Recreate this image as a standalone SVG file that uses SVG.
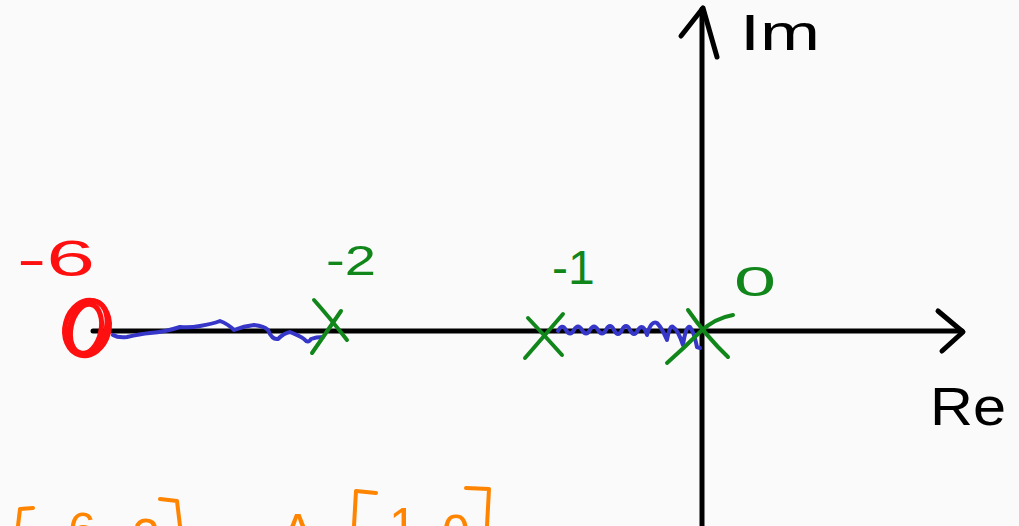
<svg xmlns="http://www.w3.org/2000/svg" width="1019" height="526" viewBox="0 0 1019 526">
<style>
.ink{fill:none;stroke-linecap:round;stroke-linejoin:round}
.ax{stroke:#000;stroke-width:5}
.gr{stroke:#11861a;stroke-width:4}
.rd{stroke:#ff1010;stroke-width:5}
.bl{stroke:#3636c8;stroke-width:4}
.or{stroke:#ff8400;stroke-width:4}
.t{font-family:"Liberation Sans",Arial,sans-serif}
</style>
<rect width="1019" height="526" fill="#fafafa"/>
<g id="connectors">
<g id="real-axis"><path class="ink ax" d="M93,331 L962,331"/><path class="ink ax" d="M938,311 L963,332 L942,351"/></g>
<g id="imag-axis"><path class="ink ax" d="M702,526 L702,9"/><path class="ink ax" d="M681,36 L703,8 L717,57"/></g>
<path id="locus-1" class="ink bl" d="M113,335 Q118,338 127,337 Q140,334 150,333 Q165,332 180,327 Q190,328 200,326 Q212,324 220,321 Q228,324 234,330 Q244,326 254,325 Q264,326 268,330 Q272,340 278,339 Q284,333 290,332 Q300,336 304,339 Q308,344 311,339 Q316,337 323,337"/>
<path id="locus-2" class="ink bl" d="M558,331 Q562,323 566,330 T574,330 Q578,323 582,330 T590,330 Q594,323 598,330 T606,330 Q610,322 614,330 T622,330 Q626,322 630,330 T638,330 Q643,322 647,335 Q651,320 657,323 Q662,328 667,340 Q670,324 673,327 Q678,330 683,345 Q686,325 690,327 Q694,332 697,347 L700,348"/>
</g>
<g id="axis-labels">
<text class="t" x="740" y="50" font-size="50" textLength="80" lengthAdjust="spacingAndGlyphs">Im</text>
<text class="t" x="930" y="425" font-size="54" textLength="76" lengthAdjust="spacingAndGlyphs">Re</text>
</g>
<g id="zero-minus6">
<ellipse class="ink rd" cx="87" cy="328" rx="22" ry="28" transform="rotate(15 87 328)" stroke-width="6"/>
<ellipse class="ink rd" cx="88" cy="327" rx="18" ry="27" transform="rotate(18 88 327)"/>
<ellipse class="ink rd" cx="86" cy="329" rx="15" ry="25" transform="rotate(12 86 329)"/>
<text class="t" x="17" y="276" font-size="50" fill="#ff1010" textLength="78" lengthAdjust="spacingAndGlyphs">-6</text>
</g>
<g id="pole-minus2">
<path class="ink gr" d="M314,300 Q330,318 347,340"/>
<path class="ink gr" d="M341,311 Q328,330 312,353"/>
<text class="t" x="326" y="275" font-size="42" fill="#11861a" textLength="50" lengthAdjust="spacingAndGlyphs">-2</text>
</g>
<g id="pole-minus1">
<path class="ink gr" d="M528,318 Q545,336 562,355"/>
<path class="ink gr" d="M563,314 Q545,335 525,358"/>
<text class="t" x="552" y="284" font-size="48" fill="#11861a">-1</text>
</g>
<g id="pole-0">
<path class="ink gr" d="M688,310 Q706,336 728,357"/>
<path class="ink gr" d="M733,315 Q715,318 700,332 Q684,348 667,363"/>
<text class="t" x="0" y="0" font-size="42" fill="#11861a" transform="translate(734,296) scale(1.8,1)">0</text>
</g>
<g id="matrix">
<path class="ink or" d="M33,508 L20,509 L18,526"/>
<path class="ink or" d="M160,499 L177,501 L180,526"/>
<path class="ink or" d="M376,493 L356,491 L354,526"/>
<path class="ink or" d="M466,488 L489,489 L487,526"/>
<text class="t" x="68" y="548" font-size="50" fill="#ff8400">6</text>
<text class="t" x="132" y="554" font-size="50" fill="#ff8400">2</text>
<text class="t" x="281" y="549" font-size="50" fill="#ff8400">A</text>
<text class="t" x="389" y="543" font-size="50" fill="#ff8400">1</text>
<text class="t" x="442" y="550" font-size="50" fill="#ff8400">0</text>
</g>
</svg>
